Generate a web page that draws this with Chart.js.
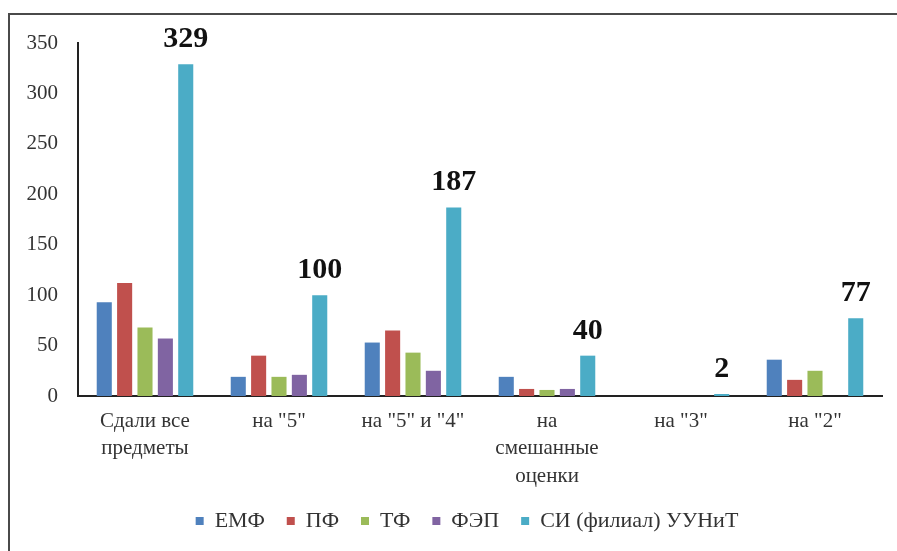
<!DOCTYPE html>
<html>
<head>
<meta charset="utf-8">
<script src="https://cdn.jsdelivr.net/npm/chart.js@4/dist/chart.umd.min.js"></script>
<style>
  html, body { margin: 0; padding: 0; background: #fff; }
  #wrap { position: relative; width: 897px; height: 551px; overflow: hidden; background: #fff; }
  #frame { position: absolute; left: 8px; top: 13px; right: -10px; bottom: -10px;
           border-top: 2px solid #4a4a4a; border-left: 2px solid #4a4a4a; pointer-events: none; }
  canvas { position: absolute; left: 0; top: 0; }
</style>
</head>
<body>
<div id="wrap">
  <canvas id="c" width="897" height="551"></canvas>
  <div id="frame"></div>
</div>
<script>
const categories = [["Сдали все", "предметы"], 'на "5"', 'на "5" и "4"', ["на", "смешанные", "оценки"], 'на "3"', 'на "2"'];
const seriesNames = ["ЕМФ", "ПФ", "ТФ", "ФЭП", "СИ (филиал) УУНиТ"];
const emf  = [93, 19, 53, 19, 0, 36];
const pf   = [112, 40, 65, 7, 0, 16];
const tf   = [68, 19, 43, 6, 0, 25];
const fep  = [57, 21, 25, 7, 0, 0];
const si   = [329, 100, 187, 40, 2, 77];
const yTicks = [0, 50, 100, 150, 200, 250, 300, 350];
const colors = ["#4F81BD", "#C0504D", "#9BBB59", "#8064A2", "#4BACC6"];

const seriesValues = [emf, pf, tf, fep, si];
const SERIF = "'Liberation Serif', 'Times New Roman', serif";

const labelPlugin = {
  id: 'siLabels',
  afterLayout(chart) {
    if (chart.legend) { chart.legend.left += 52; }
  },
  afterDatasetsDraw(chart) {
    const ctx = chart.ctx;
    const meta = chart.getDatasetMeta(4);
    ctx.save();
    ctx.font = "bold 30px " + SERIF;
    ctx.fillStyle = "#111";
    ctx.textAlign = "center";
    ctx.textBaseline = "alphabetic";
    meta.data.forEach((bar, i) => {
      ctx.fillText(String(si[i]), bar.x, bar.y - 17);
    });
    ctx.restore();
  }
};

new Chart(document.getElementById('c'), {
  type: 'bar',
  data: {
    labels: categories,
    datasets: seriesValues.map((vals, i) => ({
      label: seriesNames[i],
      data: vals,
      backgroundColor: colors[i],
      borderWidth: 0,
      categoryPercentage: 0.76,
      barPercentage: 0.74
    }))
  },
  options: {
    responsive: false,
    animation: false,
    devicePixelRatio: 1,
    layout: { padding: { top: 43, right: 15, bottom: 9, left: 0 } },
    plugins: {
      tooltip: { enabled: false },
      legend: {
        position: 'bottom',
        labels: {
          font: { family: SERIF, size: 22 },
          color: "#333",
          boxWidth: 8,
          boxHeight: 8,
          padding: 22
        }
      }
    },
    scales: {
      x: {
        grid: { display: false, drawTicks: false },
        border: { display: true, color: "#222", width: 2 },
        ticks: {
          font: { family: SERIF, size: 21, lineHeight: 1.3 },
          color: "#333",
          padding: 12,
          maxRotation: 0,
          autoSkip: false
        },
        afterFit: (s) => { s.height = 92; }
      },
      y: {
        min: 0,
        max: 350,
        afterBuildTicks: (s) => { s.ticks = yTicks.map(v => ({ value: v })); },
        grid: { display: false, drawTicks: false },
        border: { display: true, color: "#222", width: 2 },
        ticks: {
          font: { family: SERIF, size: 21 },
          color: "#333",
          padding: 20
        },
        afterFit: (s) => { s.width = 78; }
      }
    }
  },
  plugins: [labelPlugin]
});
</script>
</body>
</html>
